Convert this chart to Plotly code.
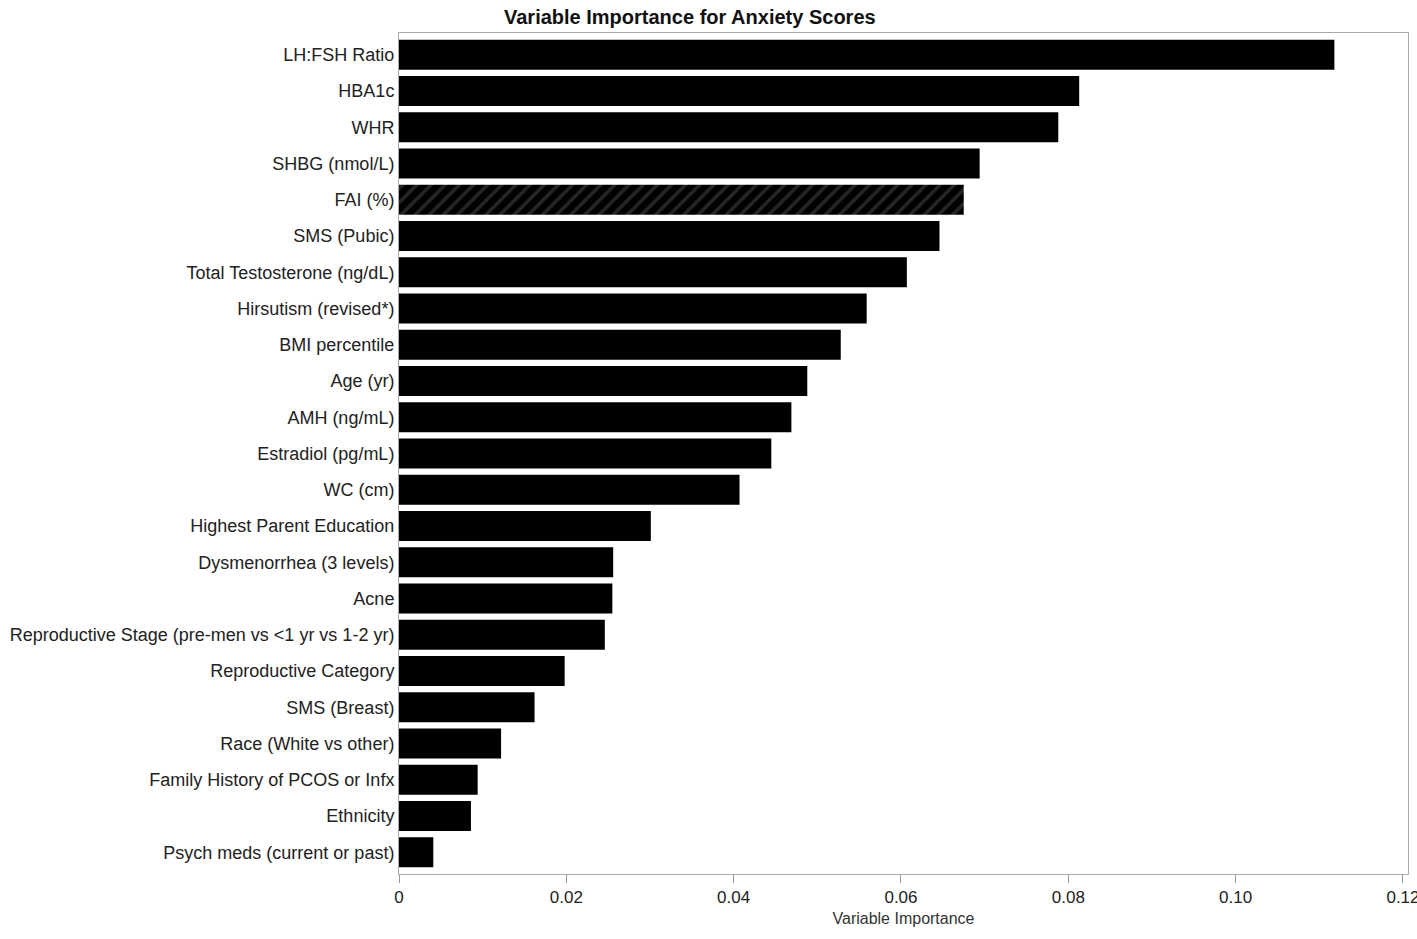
import plotly.graph_objects as go

variables = [
    "LH:FSH Ratio", "HBA1c", "WHR", "SHBG (nmol/L)", "FAI (%)", "SMS (Pubic)",
    "Total Testosterone (ng/dL)", "Hirsutism (revised*)", "BMI percentile", "Age (yr)",
    "AMH (ng/mL)", "Estradiol (pg/mL)", "WC (cm)", "Highest Parent Education",
    "Dysmenorrhea (3 levels)", "Acne", "Reproductive Stage (pre-men vs <1 yr vs 1-2 yr)",
    "Reproductive Category", "SMS (Breast)", "Race (White vs other)",
    "Family History of PCOS or Infx", "Ethnicity", "Psych meds (current or past)",
]
importance = [
    0.1118, 0.0813, 0.0788, 0.0694, 0.0675, 0.0646,
    0.0607, 0.0559, 0.0528, 0.0488,
    0.0469, 0.0445, 0.0407, 0.0301,
    0.0256, 0.0255, 0.0246,
    0.0198, 0.0162, 0.0122,
    0.0094, 0.0086, 0.0041,
]
hatched = ["FAI (%)"]
tick_vals = [0, 0.02, 0.04, 0.06, 0.08, 0.10, 0.12]
tick_text = ["0", "0.02", "0.04", "0.06", "0.08", "0.10", "0.12"]

shapes = ["/" if v in hatched else "" for v in variables]

W, H = 1417, 939
ML, MR, MT, MB = 399, 9, 33, 65

fig = go.Figure(go.Bar(
    x=importance, y=variables, orientation="h",
    width=0.83,
    marker=dict(color="black", line=dict(width=0),
                pattern=dict(shape=shapes, fgcolor="#4a4a4a", bgcolor="black",
                             size=10, solidity=0.35)),
))

fig.update_layout(
    width=W, height=H,
    margin=dict(l=ML, r=MR, t=MT, b=MB, autoexpand=False),
    paper_bgcolor="white", plot_bgcolor="white",
    showlegend=False,
    font=dict(family="Liberation Sans, Arial, sans-serif", size=18, color="#222"),
    xaxis=dict(range=[0, 0.1206], tickvals=tick_vals, ticktext=tick_text,
               ticks="outside", ticklen=8, tickcolor="#999", showgrid=False,
               zeroline=False, showline=True, linecolor="#aaa", mirror=True,
               ticklabeloverflow="allow", automargin=False,
               tickfont=dict(size=17, color="#222"),
               title=dict(text="Variable Importance", font=dict(size=16, color="#333"), standoff=6)),
    yaxis=dict(categoryorder="array", categoryarray=variables, autorange=False,
               range=[22.6, -0.6], showgrid=False, zeroline=False, showline=True,
               linecolor="#aaa", mirror=True, ticks="", ticklabelstandoff=0,
               automargin=False,
               tickfont=dict(size=18, color="#222")),
    annotations=[dict(text="<b>Variable Importance for Anxiety Scores</b>",
                      xref="paper", yref="paper",
                      x=(690 - ML) / (W - ML - MR),
                      y=1 + (MT - 17) / (H - MT - MB),
                      xanchor="center", yanchor="middle", showarrow=False,
                      font=dict(size=20, color="#111"))],
)

fig.write_html("out.html", config={"displayModeBar": False},
               post_script="document.body.style.margin='0px';document.body.style.overflow='hidden';")
